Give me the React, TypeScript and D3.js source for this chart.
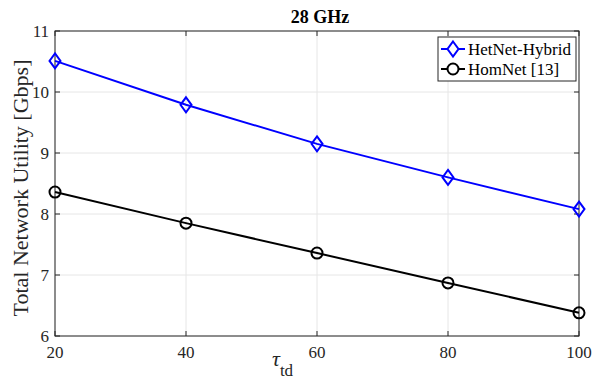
import React from 'react';
import * as d3 from 'd3';

// readings from the figure
const tauTd = [20, 40, 60, 80, 100];
const hetnetHybrid = [10.51, 9.79, 9.15, 8.6, 8.08];
const homnet = [8.36, 7.85, 7.36, 6.87, 6.38];
const xTicks = [20, 40, 60, 80, 100];
const yTicks = [6, 7, 8, 9, 10, 11];

const W = 592;
const H = 381;
const m = { left: 55, right: 13, top: 31, bottom: 45 };
const font = '"Liberation Serif", "Times New Roman", serif';
const axisCol = '#262626';

const App = () => {
  const x = d3.scaleLinear().domain([20, 100]).range([m.left, W - m.right]);
  const y = d3.scaleLinear().domain([6, 11]).range([H - m.bottom, m.top]);
  const line = d3.line<number>().x((d, i) => x(tauTd[i])).y(d => y(d));

  const diamond = (cx: number, cy: number) =>
    `M${cx},${cy - 7.5}L${cx + 5.5},${cy}L${cx},${cy + 7.5}L${cx - 5.5},${cy}Z`;

  const x0 = m.left, x1 = W - m.right, y0 = m.top, y1 = H - m.bottom;

  return (
    <div style={{ position: 'absolute', left: 0, top: 0 }}>
      <svg width={W} height={H} style={{ display: 'block', background: '#fff' }}>
        {/* grid */}
        {xTicks.map(t => (
          <line key={'gx' + t} x1={x(t)} x2={x(t)} y1={y0} y2={y1} stroke="#e6e6e6" strokeWidth={1} />
        ))}
        {yTicks.map(t => (
          <line key={'gy' + t} x1={x0} x2={x1} y1={y(t)} y2={y(t)} stroke="#e6e6e6" strokeWidth={1} />
        ))}

        {/* box */}
        <rect x={x0} y={y0} width={x1 - x0} height={y1 - y0} fill="none" stroke={axisCol} strokeWidth={1} />

        {/* ticks */}
        {xTicks.map(t => (
          <g key={'tx' + t}>
            <line x1={x(t)} x2={x(t)} y1={y1} y2={y1 - 5} stroke={axisCol} />
            <line x1={x(t)} x2={x(t)} y1={y0} y2={y0 + 5} stroke={axisCol} />
            <text x={x(t)} y={358} textAnchor="middle" fontFamily={font} fontSize={17} fill={axisCol}>{t}</text>
          </g>
        ))}
        {yTicks.map(t => (
          <g key={'ty' + t}>
            <line x1={x0} x2={x0 + 5} y1={y(t)} y2={y(t)} stroke={axisCol} />
            <line x1={x1} x2={x1 - 5} y1={y(t)} y2={y(t)} stroke={axisCol} />
            <text x={x0 - 6} y={y(t) + 6} textAnchor="end" fontFamily={font} fontSize={17} fill={axisCol}>{t}</text>
          </g>
        ))}

        {/* series */}
        <path d={line(hetnetHybrid) || ''} fill="none" stroke="#0000ff" strokeWidth={2} />
        {hetnetHybrid.map((v, i) => (
          <path key={'d' + i} d={diamond(x(tauTd[i]), y(v))} fill="none" stroke="#0000ff" strokeWidth={2} />
        ))}
        <path d={line(homnet) || ''} fill="none" stroke="#000" strokeWidth={2} />
        {homnet.map((v, i) => (
          <circle key={'c' + i} cx={x(tauTd[i])} cy={y(v)} r={5.5} fill="none" stroke="#000" strokeWidth={2} />
        ))}

        {/* title */}
        <text x={320} y={23} textAnchor="middle" fontFamily={font} fontSize={18} fontWeight="bold" fill="#000">28 GHz</text>

        {/* axis labels */}
        <text transform={`translate(28,188) rotate(-90)`} textAnchor="middle" fontFamily={font} fontSize={22} fill={axisCol}>
          Total Network Utility [Gbps]
        </text>
        <text x={272} y={366} fontFamily={font} fill={axisCol}>
          <tspan fontSize={22} fontStyle="italic">τ</tspan>
          <tspan fontSize={17} dy={10}>td</tspan>
        </text>

        {/* legend */}
        <g>
          <rect x={438} y={37} width={138} height={44} fill="#fff" stroke={axisCol} strokeWidth={1} />
          <line x1={441} x2={465} y1={49} y2={49} stroke="#0000ff" strokeWidth={2} />
          <path d={diamond(453, 49)} fill="#fff" stroke="#0000ff" strokeWidth={2} />
          <text x={468} y={55} fontFamily={font} fontSize={17} fill="#000">HetNet-Hybrid</text>
          <line x1={441} x2={465} y1={69} y2={69} stroke="#000" strokeWidth={2} />
          <circle cx={453} cy={69} r={5.5} fill="#fff" stroke="#000" strokeWidth={2} />
          <text x={468} y={75} fontFamily={font} fontSize={17} fill="#000">HomNet [13]</text>
        </g>
      </svg>
    </div>
  );
};

export default App;
